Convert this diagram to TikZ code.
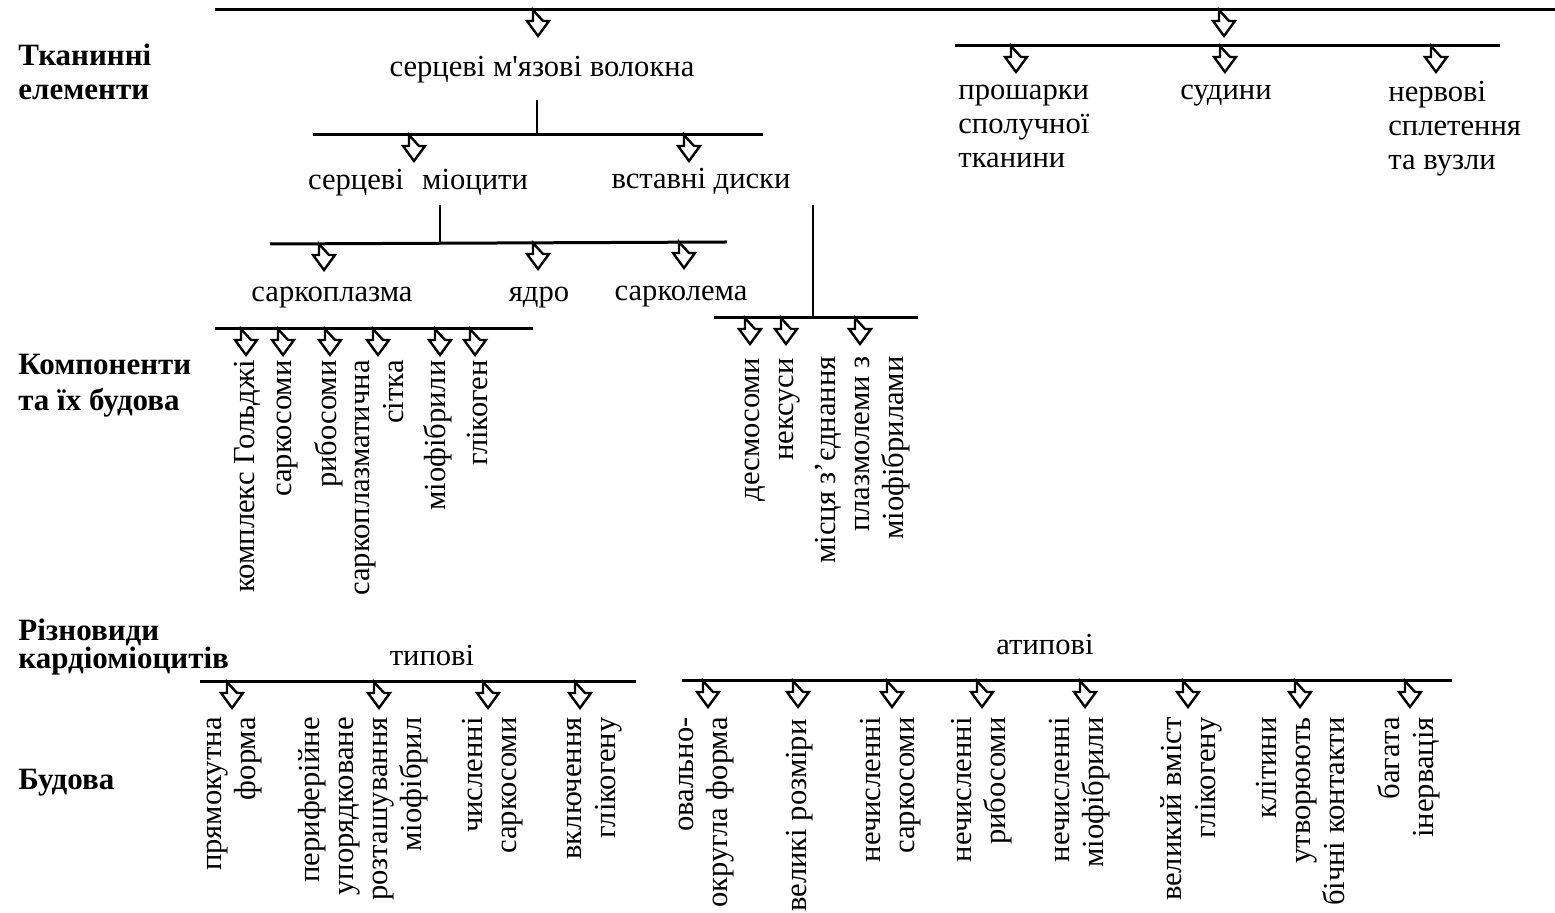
\documentclass[tikz,border=0pt]{standalone}
\usepackage{fontspec}
\setmainfont{Liberation Serif}

\tikzset{
  bar/.style={line width=1.5pt},
  stem/.style={line width=1.3pt},
  lbl/.style={font=\fontsize{15.3}{17}\selectfont, inner sep=0pt},
  vlbl/.style={lbl, rotate=90, anchor=east, align=right},
  head/.style={font=\bfseries\fontsize{15.5}{17}\selectfont, inner sep=0pt, anchor=west, align=left},
  harrow/.pic={\draw[line width=1.2pt, fill=white] (-5,0) -- (-5,11) -- (-11,11) -- (0,26) -- (11,11) -- (5,11) -- cycle;}
}

\begin{document}
\begin{tikzpicture}[x=0.5pt, y=-0.5pt]
  \useasboundingbox (0,0) rectangle (1555,913);

  % Row headings
  \node[head] (tissue) at (18,72)  {Тканинні\\елементи};
  \node[head] (parts)  at (18,386) {Компоненти\\[1pt]та їх будова};
  \node[head] (kinds)  at (18,647) {Різновиди\\[-3pt]кардіоміоцитів};
  \node[head] (build)  at (18,783) {Будова};

  % Tissue elements
  \draw[bar] (215,10) -- (1555,10);
  \node[lbl, anchor=base] (fibres) at (542,77) {серцеві м\textquotesingle язові волокна};
  \draw[bar] (955,46) -- (1500,46);
  \node[lbl, anchor=west, align=left] (layers) at (958,126) {прошарки\\сполучної\\тканини};
  \node[lbl, anchor=base] (vessels) at (1226,100) {судини};
  \node[lbl, anchor=west, align=left] (nerves) at (1388,129) {нервові\\сплетення\\та вузли};

  % Fibres -> myocytes and discs
  \draw[stem] (537,100) -- (537,135);
  \draw[bar] (313,135) -- (763,135);
  \node[lbl, anchor=base] (myocytes) at (418,190) {серцеві\hspace{0.6em}міоцити};
  \node[lbl, anchor=base] (discs) at (701,189) {вставні диски};

  % Myocytes -> parts
  \draw[stem] (440,205) -- (440,243);
  \draw[bar] (270,244) -- (727,242);
  \node[lbl, anchor=base] (sarcoplasm) at (332,302) {саркоплазма};
  \node[lbl, anchor=base] (nucleus) at (539,302) {ядро};
  \node[lbl, anchor=base] (sarcolemma) at (681,301) {сарколема};

  % Sarcoplasm components
  \draw[bar] (215,329) -- (533,329);
  \node[vlbl] (golgi) at (247,360) {комплекс Гольджі};
  \node[vlbl] (sarcosomes) at (288,360) {саркосоми};
  \node[vlbl] (ribosomes) at (329,360) {рибосоми};
  \node[vlbl] (reticulum) at (379,360) {саркоплазматична\\сітка};
  \node[vlbl] (myofibrils) at (438,360) {міофібрили};
  \node[vlbl] (glycogen) at (478,360) {глікоген};

  % Disc components
  \draw[stem] (813,205) -- (813,318);
  \draw[bar] (714,318) -- (918,318);
  \node[vlbl] (desmosomes) at (755,358) {десмосоми};
  \node[vlbl] (nexuses) at (790,358) {нексуси};
  \node[vlbl] (junctions) at (863,356) {місця з’єднання\\плазмолеми з\\міофібрилами};

  % Kinds of cardiomyocytes
  \node[lbl, anchor=base] (typical) at (432,666) {типові};
  \node[lbl, anchor=base] (atypical) at (1045,655) {атипові};
  \draw[bar] (200,682) -- (636,682);
  \draw[bar] (682,681) -- (1452,681);

  % Typical structure
  \node[vlbl] (t1) at (235,717) {прямокутна\\форма};
  \node[vlbl] (t2) at (363,717) {периферійне\\упорядковане\\розташування\\міофібрил};
  \node[vlbl] (t3) at (493,717) {численні\\саркосоми};
  \node[vlbl] (t4) at (595,717) {включення\\глікогену};

  % Atypical structure
  \node[vlbl] (a1) at (707,717) {овально-\\округла форма};
  \node[vlbl] (a2) at (800,719) {великі розміри};
  \node[vlbl] (a3) at (891,717) {нечисленні\\саркосоми};
  \node[vlbl] (a4) at (982,717) {нечисленні\\рибосоми};
  \node[vlbl] (a5) at (1080,717) {нечисленні\\міофібрили};
  \node[vlbl] (a6) at (1191,717) {великий вміст\\глікогену};
  \node[vlbl] (a7) at (1301,717) {клітини\\утворюють\\бічні контакти};
  \node[vlbl] (a8) at (1409,717) {багата\\інервація};

  % Hollow arrows
  \foreach \x in {538,1224} \pic at (\x,10) {harrow};
  \foreach \x in {414,689} \pic at (\x,135) {harrow};
  \foreach \x/\y in {324/244,538/243,684/242} \pic at (\x,\y) {harrow};
  \foreach \x in {1016,1225,1436} \pic at (\x,46) {harrow};
  \foreach \x in {246,283,330,378,440,475} \pic at (\x,329) {harrow};
  \foreach \x in {750,786,860} \pic at (\x,318) {harrow};
  \foreach \x in {232,379,488,580} \pic at (\x,682) {harrow};
  \foreach \x in {708,798,892,982,1085,1188,1300,1410} \pic at (\x,681) {harrow};
\end{tikzpicture}
\end{document}
